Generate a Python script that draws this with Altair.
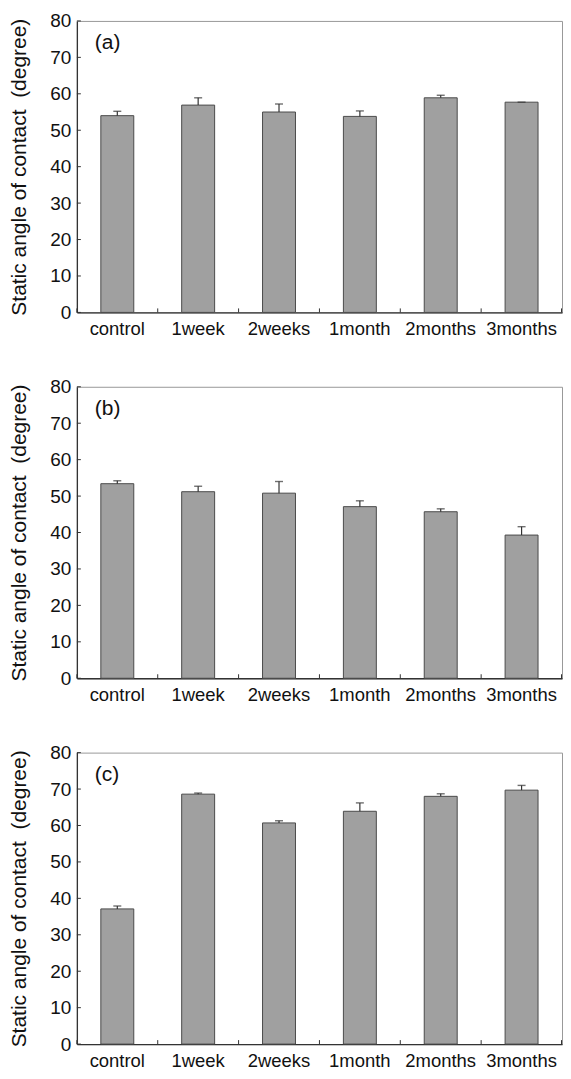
import altair as alt
import pandas as pd

categories = ["control", "1week", "2weeks", "1month", "2months", "3months"]
values_a = [54.0, 56.9, 55.0, 53.8, 58.9, 57.7]
upper_a = [55.2, 58.9, 57.2, 55.3, 59.6, 57.7]
values_b = [53.4, 51.2, 50.8, 47.1, 45.7, 39.3]
upper_b = [54.2, 52.7, 54.0, 48.7, 46.5, 41.6]
values_c = [37.1, 68.6, 60.7, 63.9, 68.0, 69.7]
upper_c = [37.9, 68.9, 61.3, 66.2, 68.7, 71.0]
panel_labels = ["(a)", "(b)", "(c)"]
y_ticks = [0, 10, 20, 30, 40, 50, 60, 70, 80]
y_title = "Static angle of contact\u00a0\u00a0(degree)"

W = 486
H = 292
FONT = "Liberation Sans"


def panel(values, upper, label):
    df = pd.DataFrame({"cat": categories, "value": values, "upper": upper})
    tdf = pd.DataFrame({"t": y_ticks})
    ldf = pd.DataFrame({"label": [label]})
    xscale = alt.Scale(domain=categories, paddingInner=0, paddingOuter=0)
    yscale = alt.Scale(domain=[0, 80], nice=False)
    xaxis = alt.Axis(title=None, labelAngle=0, ticks=False, labelPadding=7,
                     labelFontSize=18.5, labelFont=FONT, labelColor="#111",
                     labelOverlap=False,
                     domainColor="#333", domainWidth=1.3, grid=False)
    yaxis = alt.Axis(title=y_title, values=y_ticks, tickCount=20, ticks=False, labelPadding=6,
                     labelFontSize=19, labelFont=FONT, labelColor="#111",
                     labelOverlap=False,
                     titleFontSize=21, titleFont=FONT, titleFontWeight="normal",
                     titleColor="#111", titlePadding=20,
                     domainColor="#333", domainWidth=1.3, grid=False)
    x = alt.X("cat:N", sort=categories, scale=xscale, axis=xaxis)
    base = alt.Chart(df)
    bars = base.mark_bar(width=33, fill="#a0a0a0", stroke="#4a4a4a", strokeWidth=1).encode(
        x=x, y=alt.Y("value:Q", scale=yscale, axis=yaxis)
    )
    err = base.mark_rule(color="#333", strokeWidth=1.2).encode(
        x=x, y=alt.Y("value:Q", scale=yscale, axis=yaxis), y2="upper:Q"
    )
    cap = base.mark_tick(orient="horizontal", size=8, thickness=1.4, color="#333").encode(
        x=x, y=alt.Y("upper:Q", scale=yscale, axis=yaxis)
    )
    xticks = base.mark_rule(color="#333", strokeWidth=1).encode(
        x=alt.X("cat:N", sort=categories, scale=xscale, axis=xaxis, bandPosition=0),
        y=alt.value(H), y2=alt.value(H - 4),
    )
    endtick = alt.Chart(ldf).mark_rule(color="#333", strokeWidth=1).encode(
        x=alt.value(W - 0.5), y=alt.value(H), y2=alt.value(H - 4)
    )
    yt = alt.Chart(tdf).mark_rule(color="#333", strokeWidth=1).encode(
        y=alt.Y("t:Q", scale=yscale, axis=yaxis), x=alt.value(0), x2=alt.value(4)
    )
    lab = alt.Chart(ldf).mark_text(align="left", baseline="middle", fontSize=21,
                                   font=FONT, color="#111").encode(
        x=alt.value(18), y=alt.value(22), text="label:N"
    )
    return alt.layer(bars, err, cap, xticks, endtick, yt, lab).properties(width=W, height=H)


chart = alt.vconcat(
    panel(values_a, upper_a, panel_labels[0]),
    panel(values_b, upper_b, panel_labels[1]),
    panel(values_c, upper_c, panel_labels[2]),
    spacing=74.5,
    bounds="flush",
).properties(
    padding={"left": 0, "top": 2, "right": 0, "bottom": 0}
).configure_view(
    stroke="#999", strokeWidth=1
)

chart.save("out.html", embed_options={"renderer": "svg", "actions": False})
